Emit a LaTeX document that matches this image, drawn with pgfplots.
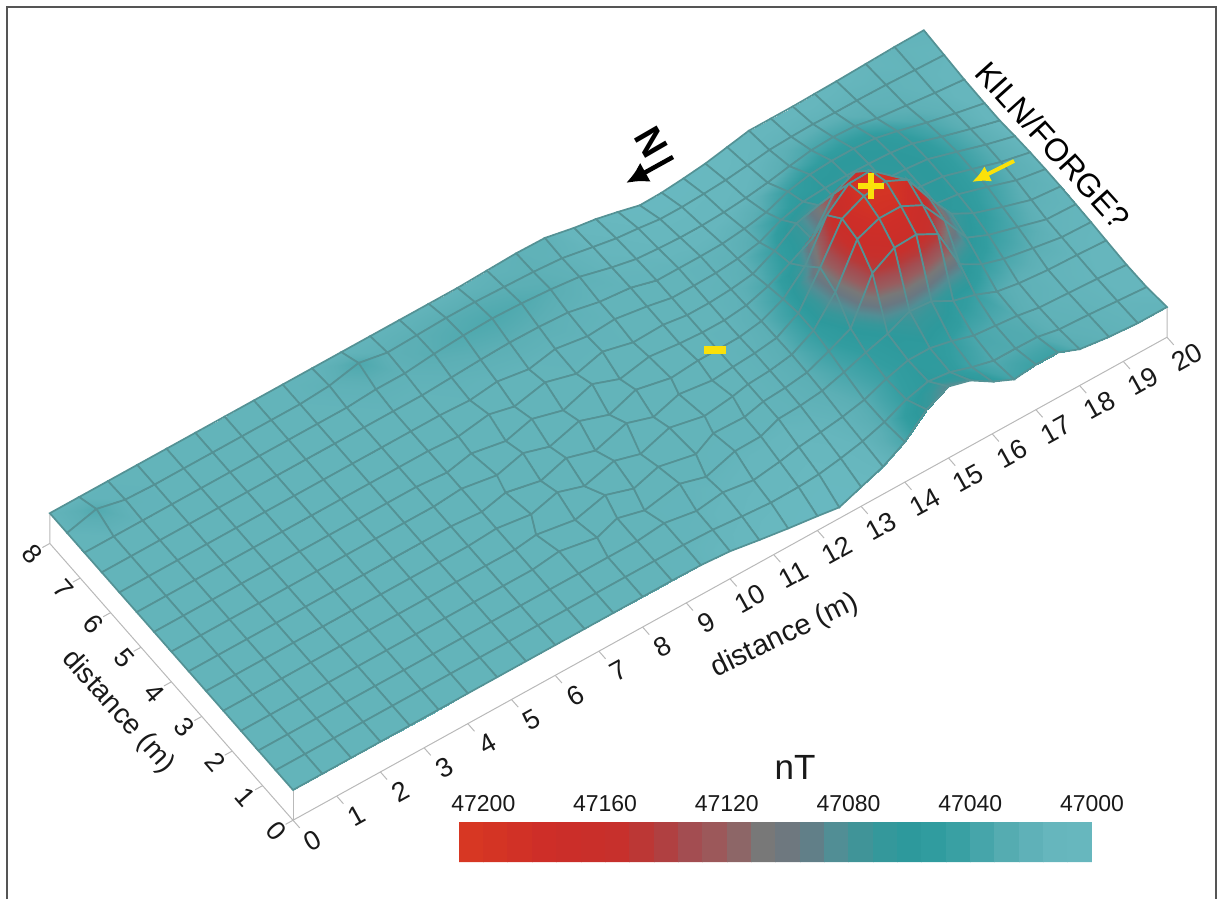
\documentclass[border=0pt]{standalone}
\usepackage{fontspec}
\setmainfont{Liberation Sans}
\usepackage{pgfplots}
\pgfplotsset{compat=1.18}
\usetikzlibrary{calc,arrows.meta}
\definecolor{meshc}{RGB}{84,146,149}
\definecolor{frm}{RGB}{85,85,85}
\definecolor{tck}{RGB}{185,185,185}
\definecolor{ylw}{RGB}{250,225,10}
\pgfplotsset{colormap={mag}{
rgb255=(104,184,192) rgb255=(104,184,192) rgb255=(104,184,191) rgb255=(102,182,189) rgb255=(92,175,181)
rgb255=(70,165,170) rgb255=(50,157,160) rgb255=(45,153,156) rgb255=(55,151,154) rgb255=(81,142,149)
rgb255=(105,120,130) rgb255=(120,120,120) rgb255=(152,93,95) rgb255=(163,77,81) rgb255=(183,58,57)
rgb255=(199,48,44) rgb255=(202,46,41) rgb255=(206,46,40) rgb255=(211,51,37) rgb255=(215,55,35)}}
\begin{document}
\begin{tikzpicture}
\begin{axis}[hide axis,clip=false,x={(43.7pt,24.15pt)},y={(-30.4pt,34.6pt)},z={(0pt,0.55pt)},
 xmin=0,xmax=20,ymin=0,ymax=8,zmin=46965,zmax=47060,colormap name=mag,point meta min=46980,point meta max=47208]
\coordinate (O) at (axis cs:0,0,47020);
% box edges
\addplot3[tck,line width=1pt] coordinates {(0,8,47020) (0,8,46965) (0,0,46965) (20,0,46965) (20,0,47020)};
\addplot3[tck,line width=1pt] coordinates {(0,0,46965) (0,0,47020)};
\pgfplotsinvokeforeach{0,...,20}{
 \draw[tck,line width=1pt] (axis cs:#1,0,46965) -- (axis cs:#1,-0.22,46965);
 \node[rotate=29,font=\fontsize{27}{27}\selectfont,text=black!90,inner sep=0pt] at ($(axis cs:#1,0,46965)+(20pt,-20pt)$) {#1};
}
\pgfplotsinvokeforeach{0,...,8}{
 \draw[tck,line width=1pt] (axis cs:0,#1,46965) -- (axis cs:-0.17,#1,46965);
 \node[rotate=-49,font=\fontsize{27}{27}\selectfont,text=black!90,inner sep=0pt] at ($(axis cs:0,#1,46965)+(-17pt,-11pt)$) {#1};
}
\addplot3[surf,shader=faceted interp,faceted color=meshc,line width=1.7pt,z buffer=sort,mesh/cols=34,point meta=z] table[row sep=newline]{
x y z
0 0 47020
0.67 0 47020
1.33 0 47020
2 0 47020
2.67 0 47020
3.33 0 47020
4 0 47020
4.67 0 47020
5.33 0 47020
6 0 47020
6.67 0 47020
7.33 0 47020
8 0 47020
8.67 0 47020
9.33 0 47019
10 0 47015
10.67 0 47006
11.33 0 46998
12 0 46991
12.5 0 46985
13 0 47000
13.5 0 47015
14 0 47038
14.5 0 47075
15 0 47095
15.5 0 47084
16 0 47060
16.5 0 47042
17 0 47047
17.5 0 47047
18 0 47031
18.67 0 47024
19.33 0 47020
20 0 47020
0 0.57 47020
0.67 0.57 47020
1.33 0.57 47020
2 0.57 47020
2.67 0.57 47020
3.33 0.57 47020
4 0.57 47020
4.67 0.57 47020
5.33 0.57 47020
6 0.57 47020
6.67 0.57 47020
7.33 0.57 47020
8 0.57 47020
8.67 0.57 47020
9.33 0.57 47020
10 0.57 47018
10.67 0.57 47013
11.33 0.57 47009
12 0.62 47005
12.5 0.67 47003
13 0.67 47010
13.5 0.67 47019
14 0.67 47032
14.5 0.67 47051
15 0.67 47062
15.5 0.67 47057
16 0.67 47044
16.5 0.67 47034
17 0.67 47034
17.5 0.67 47033
18 0.67 47025
18.67 0.67 47022
19.33 0.67 47018
20 0.67 47014
0 1.14 47020
0.67 1.14 47020
1.33 1.14 47020
2 1.14 47020
2.67 1.14 47020
3.33 1.14 47020
4 1.14 47020
4.67 1.14 47020
5.33 1.14 47020
6 1.14 47020
6.67 1.14 47020
7.33 1.14 47020
8 1.14 47020
8.67 1.14 47020
9.33 1.2 47020
10 1.1 47019
10.67 1.2 47017
11.33 1.14 47014
12 1.24 47012
12.5 1.33 47011
13 1.33 47016
13.5 1.33 47022
14 1.33 47031
14.5 1.33 47047
15 1.33 47059
15.5 1.33 47059
16 1.33 47050
16.5 1.33 47038
17 1.33 47034
17.5 1.33 47030
18 1.33 47023
18.67 1.33 47020
19.33 1.33 47017
20 1.33 47013
0 1.71 47020
0.67 1.71 47020
1.33 1.71 47020
2 1.71 47020
2.67 1.71 47020
3.33 1.71 47020
4 1.71 47020
4.67 1.71 47020
5.33 1.71 47020
6 1.71 47020
6.67 1.71 47020
7.33 1.78 47020
8.1 1.64 47020
8.67 1.8 47020
9.2 1.66 47020
10.1 1.8 47020
10.6 1.65 47020
11.4 1.85 47019
12 1.86 47019
12.5 2 47020
13 2 47022
13.5 2 47027
14 2 47039
14.5 2 47053
15 2 47065
15.5 2 47084
16 2 47080
16.5 2 47059
17 2 47048
17.5 2 47032
18 2 47025
18.67 2 47020
19.33 2 47018
20 2 47015
0 2.29 47020
0.67 2.29 47020
1.33 2.29 47020
2 2.29 47020
2.67 2.29 47020
3.33 2.29 47020
4 2.29 47020
4.67 2.29 47020
5.33 2.29 47020
6 2.29 47020
6.67 2.29 47020
7.2 2.35 47020
8 2.22 47020
8.8 2.38 47020
9.33 2.2 47020
10 2.36 47020
10.75 2.2 47020
11.3 2.42 47020
12 2.4 47020
12.5 2.5 47020
13 2.5 47023
13.5 2.5 47029
14 2.5 47046
14.5 2.5 47065
15 2.5 47144
15.5 2.5 47168
16 2.5 47170
16.5 2.5 47149
17 2.5 47072
17.5 2.5 47050
18 2.5 47038
18.67 2.5 47028
19.33 2.5 47019
20 2.5 47017
0 2.86 47020
0.67 2.86 47020
1.33 2.86 47020
2 2.86 47020
2.67 2.86 47020
3.33 2.86 47020
4 2.86 47020
4.67 2.86 47020
5.33 2.86 47020
6 2.86 47020
6.67 2.9 47020
7.4 2.8 47020
8.1 2.95 47020
8.6 2.78 47020
9.4 2.95 47020
9.9 2.8 47020
10.7 3 47020
11.4 2.85 47020
12.1 2.93 47020
12.5 3 47020
13 3 47023
13.5 3 47030
14 3 47052
14.5 3 47100
15 3 47174
15.5 3 47190
16 3 47190
16.5 3 47170
17 3 47120
17.5 3 47067
18 3 47050
18.67 3 47035
19.33 3 47020
20 3 47018
0 3.43 47020
0.67 3.43 47020
1.33 3.43 47020
2 3.43 47020
2.67 3.43 47020
3.33 3.43 47020
4 3.43 47020
4.67 3.43 47020
5.33 3.43 47020
6 3.43 47020
6.67 3.38 47020
7.3 3.5 47020
8 3.35 47020
8.7 3.52 47020
9.25 3.35 47020
10.1 3.55 47020
10.6 3.38 47020
11.3 3.55 47020
12 3.46 47020
12.5 3.5 47020
13 3.5 47023
13.5 3.5 47029
14 3.5 47052
14.5 3.5 47113
15 3.5 47180
15.5 3.5 47199
16 3.5 47204
16.5 3.5 47185
17 3.5 47129
17.5 3.5 47079
18 3.5 47058
18.67 3.5 47040
19.33 3.5 47024
20 3.5 47019
0 4 47020
0.67 4 47020
1.33 4 47020
2 4 47020
2.67 4 47020
3.33 4 47020
4 4 47020
4.67 4 47020
5.33 4 47020
6 4 47020
6.67 4.05 47020
7.4 3.93 47020
8.1 4.08 47020
8.6 3.92 47020
9.4 4.1 47020
9.95 3.9 47020
10.7 4.1 47020
11.4 3.95 47020
12.05 4 47020
12.5 4 47020
13 4 47021
13.5 4 47028
14 4 47046
14.5 4 47084
15 4 47155
15.5 4 47190
16 4 47192
16.5 4 47160
17 4 47113
17.5 4 47066
18 4 47061
18.67 4 47045
19.33 4 47028
20 4 47019
0 4.57 47020
0.67 4.57 47020
1.33 4.57 47020
2 4.57 47020
2.67 4.57 47020
3.33 4.57 47020
4 4.57 47020
4.67 4.57 47020
5.33 4.57 47020
6 4.57 47020
6.67 4.52 47020
7.3 4.63 47020
8 4.5 47020
8.7 4.65 47020
9.3 4.48 47020
10.1 4.68 47020
10.6 4.48 47020
11.35 4.6 47020
12 4.53 47020
12.5 4.5 47020
13 4.5 47020
13.5 4.5 47025
14 4.5 47038
14.5 4.5 47058
15 4.5 47080
15.5 4.5 47140
16 4.5 47158
16.5 4.5 47135
17 4.5 47068
17.5 4.5 47066
18 4.5 47062
18.67 4.5 47046
19.33 4.5 47030
20 4.5 47018
0 5.14 47020
0.67 5.14 47020
1.33 5.14 47020
2 5.14 47020
2.67 5.14 47020
3.33 5.14 47020
4 5.14 47020
4.67 5.14 47020
5.33 5.14 47020
6 5.14 47020
6.67 5.14 47020
7.33 5.1 47020
8.1 5.2 47020
8.6 5.08 47020
9.4 5.22 47020
10 5.05 47020
10.7 5.2 47020
11.3 5.05 47020
12 5.07 47020
12.5 5 47020
13 5 47020
13.5 5 47023
14 5 47029
14.5 5 47049
15 5 47077
15.5 5 47088
16 5 47068
16.5 5 47068
17 5 47068
17.5 5 47066
18 5 47062
18.67 5 47046
19.33 5 47030
20 5 47016
0 5.71 47020
0.67 5.71 47020
1.33 5.71 47020
2 5.71 47020
2.67 5.71 47020
3.33 5.71 47020
4 5.71 47020
4.67 5.71 47020
5.33 5.71 47020
6 5.71 47020
6.67 5.71 47020
7.33 5.71 47020
8 5.68 47020
8.67 5.75 47020
9.33 5.65 47020
10 5.75 47021
10.67 5.65 47021
11.33 5.7 47020
12 5.6 47020
12.5 5.5 47020
13 5.5 47020
13.5 5.5 47021
14 5.5 47025
14.5 5.5 47033
15 5.5 47052
15.5 5.5 47063
16 5.5 47066
16.5 5.5 47067
17 5.5 47066
17.5 5.5 47064
18 5.5 47059
18.67 5.5 47042
19.33 5.5 47027
20 5.5 47013
0 6.29 47020
0.67 6.29 47020
1.33 6.29 47020
2 6.29 47020
2.67 6.29 47020
3.33 6.29 47020
4 6.29 47020
4.67 6.29 47020
5.33 6.29 47020
6 6.29 47020
6.67 6.29 47020
7.33 6.29 47020
8 6.29 47023
8.67 6.29 47026
9.33 6.29 47028
10 6.29 47027
10.67 6.29 47024
11.33 6.2 47020
12 6.14 47020
12.5 6 47020
13 6 47020
13.5 6 47020
14 6 47021
14.5 6 47026
15 6 47034
15.5 6 47050
16 6 47059
16.5 6 47062
17 6 47062
17.5 6 47059
18 6 47050
18.67 6 47036
19.33 6 47024
20 6 47013
0 6.86 47020
0.67 6.86 47020
1.33 6.86 47020
2 6.86 47020
2.67 6.86 47020
3.33 6.86 47020
4 6.86 47020
4.67 6.86 47020
5.33 6.86 47020
6 6.86 47020
6.67 6.86 47024
7.33 6.86 47024
8 6.86 47030
8.67 6.86 47034
9.33 6.86 47036
10 6.86 47034
10.67 6.86 47030
11.33 6.86 47024
12 6.76 47018
12.5 6.67 47017
13 6.67 47014
13.5 6.67 47012
14 6.67 47012
14.5 6.67 47014
15 6.67 47018
15.5 6.67 47024
16 6.67 47032
16.5 6.67 47039
17 6.67 47041
17.5 6.67 47039
18 6.67 47031
18.67 6.67 47025
19.33 6.67 47019
20 6.67 47014
0 7.43 47020
0.67 7.43 47034
1.33 7.43 47022
2 7.43 47020
2.67 7.43 47020
3.33 7.43 47020
4 7.43 47020
4.67 7.43 47020
5.33 7.43 47020
6 7.43 47024
6.67 7.43 47036
7.33 7.43 47026
8 7.43 47028
8.67 7.43 47030
9.33 7.43 47030
10 7.43 47028
10.67 7.43 47026
11.33 7.43 47022
12 7.38 47016
12.5 7.33 47013
13 7.33 47009
13.5 7.33 47004
14 7.33 47004
14.5 7.33 47006
15 7.33 47009
15.5 7.33 47014
16 7.33 47020
16.5 7.33 47022
17 7.33 47023
17.5 7.33 47022
18 7.33 47022
18.67 7.33 47021
19.33 7.33 47019
20 7.33 47017
0 8 47020
0.67 8 47020
1.33 8 47020
2 8 47020
2.67 8 47020
3.33 8 47020
4 8 47020
4.67 8 47020
5.33 8 47020
6 8 47020
6.67 8 47020
7.33 8 47020
8 8 47020
8.67 8 47020
9.33 8 47020
10 8 47022
10.67 8 47024
11.33 8 47023
12 8 47012
12.5 8 47006
13 8 46997
13.5 8 46987
14 8 46988
14.5 8 46992
15 8 46997
15.5 8 47005
16 8 47013
16.5 8 47013
17 8 47013
17.5 8 47014
18 8 47015
18.67 8 47017
19.33 8 47019
20 8 47020
};
\end{axis}
\begin{scope}[shift={($(O)+(-293pt,-109pt)$)}]
\path[use as bounding box] (0,0) rectangle (1220pt,899pt);
\draw[frm,line width=2.4pt] (7pt,0) -- (7pt,892pt) -- (1216pt,892pt) -- (1216pt,0);
\begin{axis}[at={(459pt,37pt)},anchor=south west,width=633pt,height=40pt,scale only axis,view={0}{90},
 xmin=47000,xmax=47208,ymin=0,ymax=1,x dir=reverse,colormap name=mag,point meta min=46980,point meta max=47208,
 axis line style={draw=none},ytick=\empty,xtick={47000,47040,47080,47120,47160,47200},xticklabel pos=upper,
 scaled x ticks=false,major tick length=0pt,tick label style={font=\fontsize{23}{23}\selectfont,text=black!90,inner sep=0pt,yshift=10pt},
 /pgf/number format/assume math mode=true,/pgf/number format/fixed,/pgf/number format/precision=0,/pgf/number format/1000 sep={}]
\addplot3[surf,shader=flat corner,mesh/rows=2,point meta=x] table[row sep=newline]{
x y z
47208 0 0
47200 0 0
47192 0 0
47184 0 0
47176 0 0
47168 0 0
47160 0 0
47152 0 0
47144 0 0
47136 0 0
47128 0 0
47120 0 0
47112 0 0
47104 0 0
47096 0 0
47088 0 0
47080 0 0
47072 0 0
47064 0 0
47056 0 0
47048 0 0
47040 0 0
47032 0 0
47024 0 0
47016 0 0
47008 0 0
47000 0 0
47208 1 0
47200 1 0
47192 1 0
47184 1 0
47176 1 0
47168 1 0
47160 1 0
47152 1 0
47144 1 0
47136 1 0
47128 1 0
47120 1 0
47112 1 0
47104 1 0
47096 1 0
47088 1 0
47080 1 0
47072 1 0
47064 1 0
47056 1 0
47048 1 0
47040 1 0
47032 1 0
47024 1 0
47016 1 0
47008 1 0
47000 1 0
};
\end{axis}
\node[font=\fontsize{35}{35}\selectfont,text=black!90] at (795pt,132pt) {nT};
\node[font=\fontsize{29}{29}\selectfont,text=black!90,rotate=26] at (785pt,263pt) {distance (m)};
\node[font=\fontsize{28}{28}\selectfont,text=black!90,rotate=-48] at (118pt,187pt) {distance (m)};
\node[font=\fontsize{32}{32}\selectfont,text=black,rotate=-48] at (1053pt,754pt) {KILN/FORGE?};
\node[font=\bfseries\fontsize{38}{38}\selectfont,rotate=120,inner sep=0pt] at (651pt,757pt) {N};
\draw[-{Latex[length=22pt,width=22pt]},line width=4.5pt] (673pt,742pt) -- (626pt,716pt);
\draw[ylw,line width=6.5pt] (858pt,713pt) -- (884pt,713pt) (871pt,700pt) -- (871pt,726pt);
\draw[ylw,line width=8pt] (704pt,549pt) -- (726pt,549pt);
\draw[ylw,-{Latex[length=18pt,width=17pt]},line width=4pt] (1014pt,738pt) -- (972pt,717pt);
\end{scope}
\end{tikzpicture}
\end{document}
